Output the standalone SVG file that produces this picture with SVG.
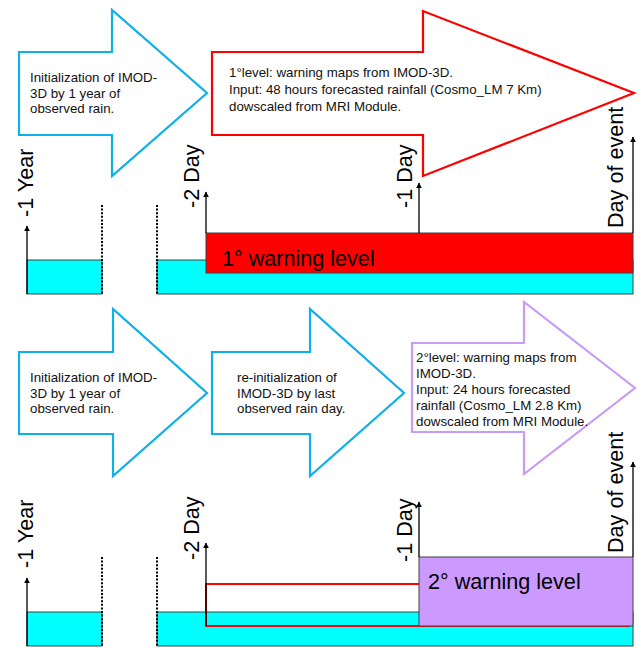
<svg xmlns="http://www.w3.org/2000/svg" width="641" height="648" viewBox="0 0 641 648">
<defs>
<style>
.arrow{fill:#fff;stroke-width:2.2;stroke-linejoin:miter}
.blue{stroke:#0fb0ea}
.red{stroke:#ff0000}
.purple{stroke:#c89cf4}
.t{font-family:"Liberation Sans",Arial,sans-serif;font-size:13.3px;fill:#111}
.big{font-family:"Liberation Sans",Arial,sans-serif;font-size:21.6px;fill:#000}
.cyan{fill:#00ffff;stroke:#404040;stroke-width:1}
.axis{stroke:#000;stroke-width:1.3;fill:none}
.dot{stroke:#000;stroke-width:2;stroke-dasharray:2 1.6;fill:none}
</style>
<marker id="ah" viewBox="0 0 10 10" refX="9" refY="5" markerWidth="6" markerHeight="6" markerUnits="userSpaceOnUse" orient="auto">
<path d="M0,0 L10,5 L0,10 z" fill="#000"/>
</marker>
</defs>
<rect width="641" height="648" fill="#fff"/>

<!-- top section -->
<g id="top-arrow-init">
<path class="arrow blue" d="M19,52 H112 V10 L207,93 L112,176 V135 H19 Z"/>
<text class="t" x="30" y="82">Initialization of IMOD-</text>
<text class="t" x="30" y="97.5">3D by 1 year of</text>
<text class="t" x="30" y="113">observed rain.</text>
</g>
<g id="top-arrow-level1">
<path class="arrow red" d="M212,52 H423 V11 L634,93 L423,176 V135 H212 Z"/>
<text class="t" x="229" y="76.5">1°level: warning maps from IMOD-3D.</text>
<text class="t" x="229" y="93.5">Input: 48 hours forecasted rainfall (Cosmo_LM 7 Km)</text>
<text class="t" x="229" y="110.5">dowscaled from MRI Module.</text>
</g>
<g id="top-timeline">
<rect class="cyan" x="27" y="260" width="75" height="34"/>
<rect class="cyan" x="157" y="260" width="476" height="34"/>
<rect x="206" y="233" width="427" height="40" fill="#ff0000" stroke="#404040" stroke-width="1"/>
<text class="big" x="222" y="266">1° warning level</text>
</g>
<g id="top-labels">
<text class="big" transform="translate(32.5,217) rotate(-90)">-1 Year</text>
<text class="big" transform="translate(199,208) rotate(-90)">-2 Day</text>
<text class="big" transform="translate(412,208) rotate(-90)">-1 Day</text>
<text class="big" transform="translate(623,228) rotate(-90)">Day of event</text>
</g>

<!-- bottom section -->
<g id="bottom-arrow-init">
<path class="arrow blue" d="M19,352 H113 V309 L207,393 L113,476 V434 H19 Z"/>
<text class="t" x="30" y="382">Initialization of IMOD-</text>
<text class="t" x="30" y="397.5">3D by 1 year of</text>
<text class="t" x="30" y="413">observed rain.</text>
</g>
<g id="bottom-arrow-reinit">
<path class="arrow blue" d="M212,352 H310 V309 L404,393 L310,476 V434 H212 Z"/>
<text class="t" x="237" y="382">re-initialization of</text>
<text class="t" x="237" y="397.5">IMOD-3D by last</text>
<text class="t" x="237" y="413">observed rain day.</text>
</g>
<g id="bottom-arrow-level2">
<path class="arrow purple" d="M412,343 H524 V302 L635,388 L524,474 V432 H412 Z"/>
<text class="t" x="416" y="361.5">2°level: warning maps from</text>
<text class="t" x="416" y="377.5">IMOD-3D.</text>
<text class="t" x="416" y="393.5">Input: 24 hours forecasted</text>
<text class="t" x="416" y="409.5">rainfall (Cosmo_LM 2.8 Km)</text>
<text class="t" x="416" y="425.5">dowscaled from MRI Module.</text>
</g>
<g id="bottom-timeline">
<rect class="cyan" x="27" y="612" width="75" height="34"/>
<rect class="cyan" x="157" y="612" width="476" height="34"/>
<rect x="206" y="584" width="423" height="42" fill="none" stroke="#ff0000" stroke-width="2"/>
<rect x="419" y="557" width="214" height="69" fill="#cc99ff" stroke="#404040" stroke-width="1"/>
<text class="big" x="428" y="589">2° warning level</text>
</g>
<g id="bottom-labels">
<text class="big" transform="translate(32.5,568) rotate(-90)">-1 Year</text>
<text class="big" transform="translate(199,560) rotate(-90)">-2 Day</text>
<text class="big" transform="translate(412,562) rotate(-90)">-1 Day</text>
<text class="big" transform="translate(623,553) rotate(-90)">Day of event</text>
</g>

<g id="connectors">
<line class="dot" x1="102" y1="205" x2="102" y2="294"/>
<line class="dot" x1="157" y1="205" x2="157" y2="294"/>
<line class="axis" x1="27" y1="294" x2="27" y2="226" marker-end="url(#ah)"/>
<line class="axis" x1="206" y1="233" x2="206" y2="192" marker-end="url(#ah)"/>
<line class="axis" x1="419" y1="233" x2="419" y2="183" marker-end="url(#ah)"/>
<line class="axis" x1="633" y1="233" x2="633" y2="137" marker-end="url(#ah)"/>

<line class="dot" x1="102" y1="557" x2="102" y2="646"/>
<line class="dot" x1="157" y1="557" x2="157" y2="646"/>
<line class="axis" x1="27" y1="646" x2="27" y2="578" marker-end="url(#ah)"/>
<line class="axis" x1="206" y1="626" x2="206" y2="543" marker-end="url(#ah)"/>
<line class="axis" x1="419" y1="557" x2="419" y2="502" marker-end="url(#ah)"/>
<line class="axis" x1="633" y1="557" x2="633" y2="462" marker-end="url(#ah)"/>
</g>
</svg>
